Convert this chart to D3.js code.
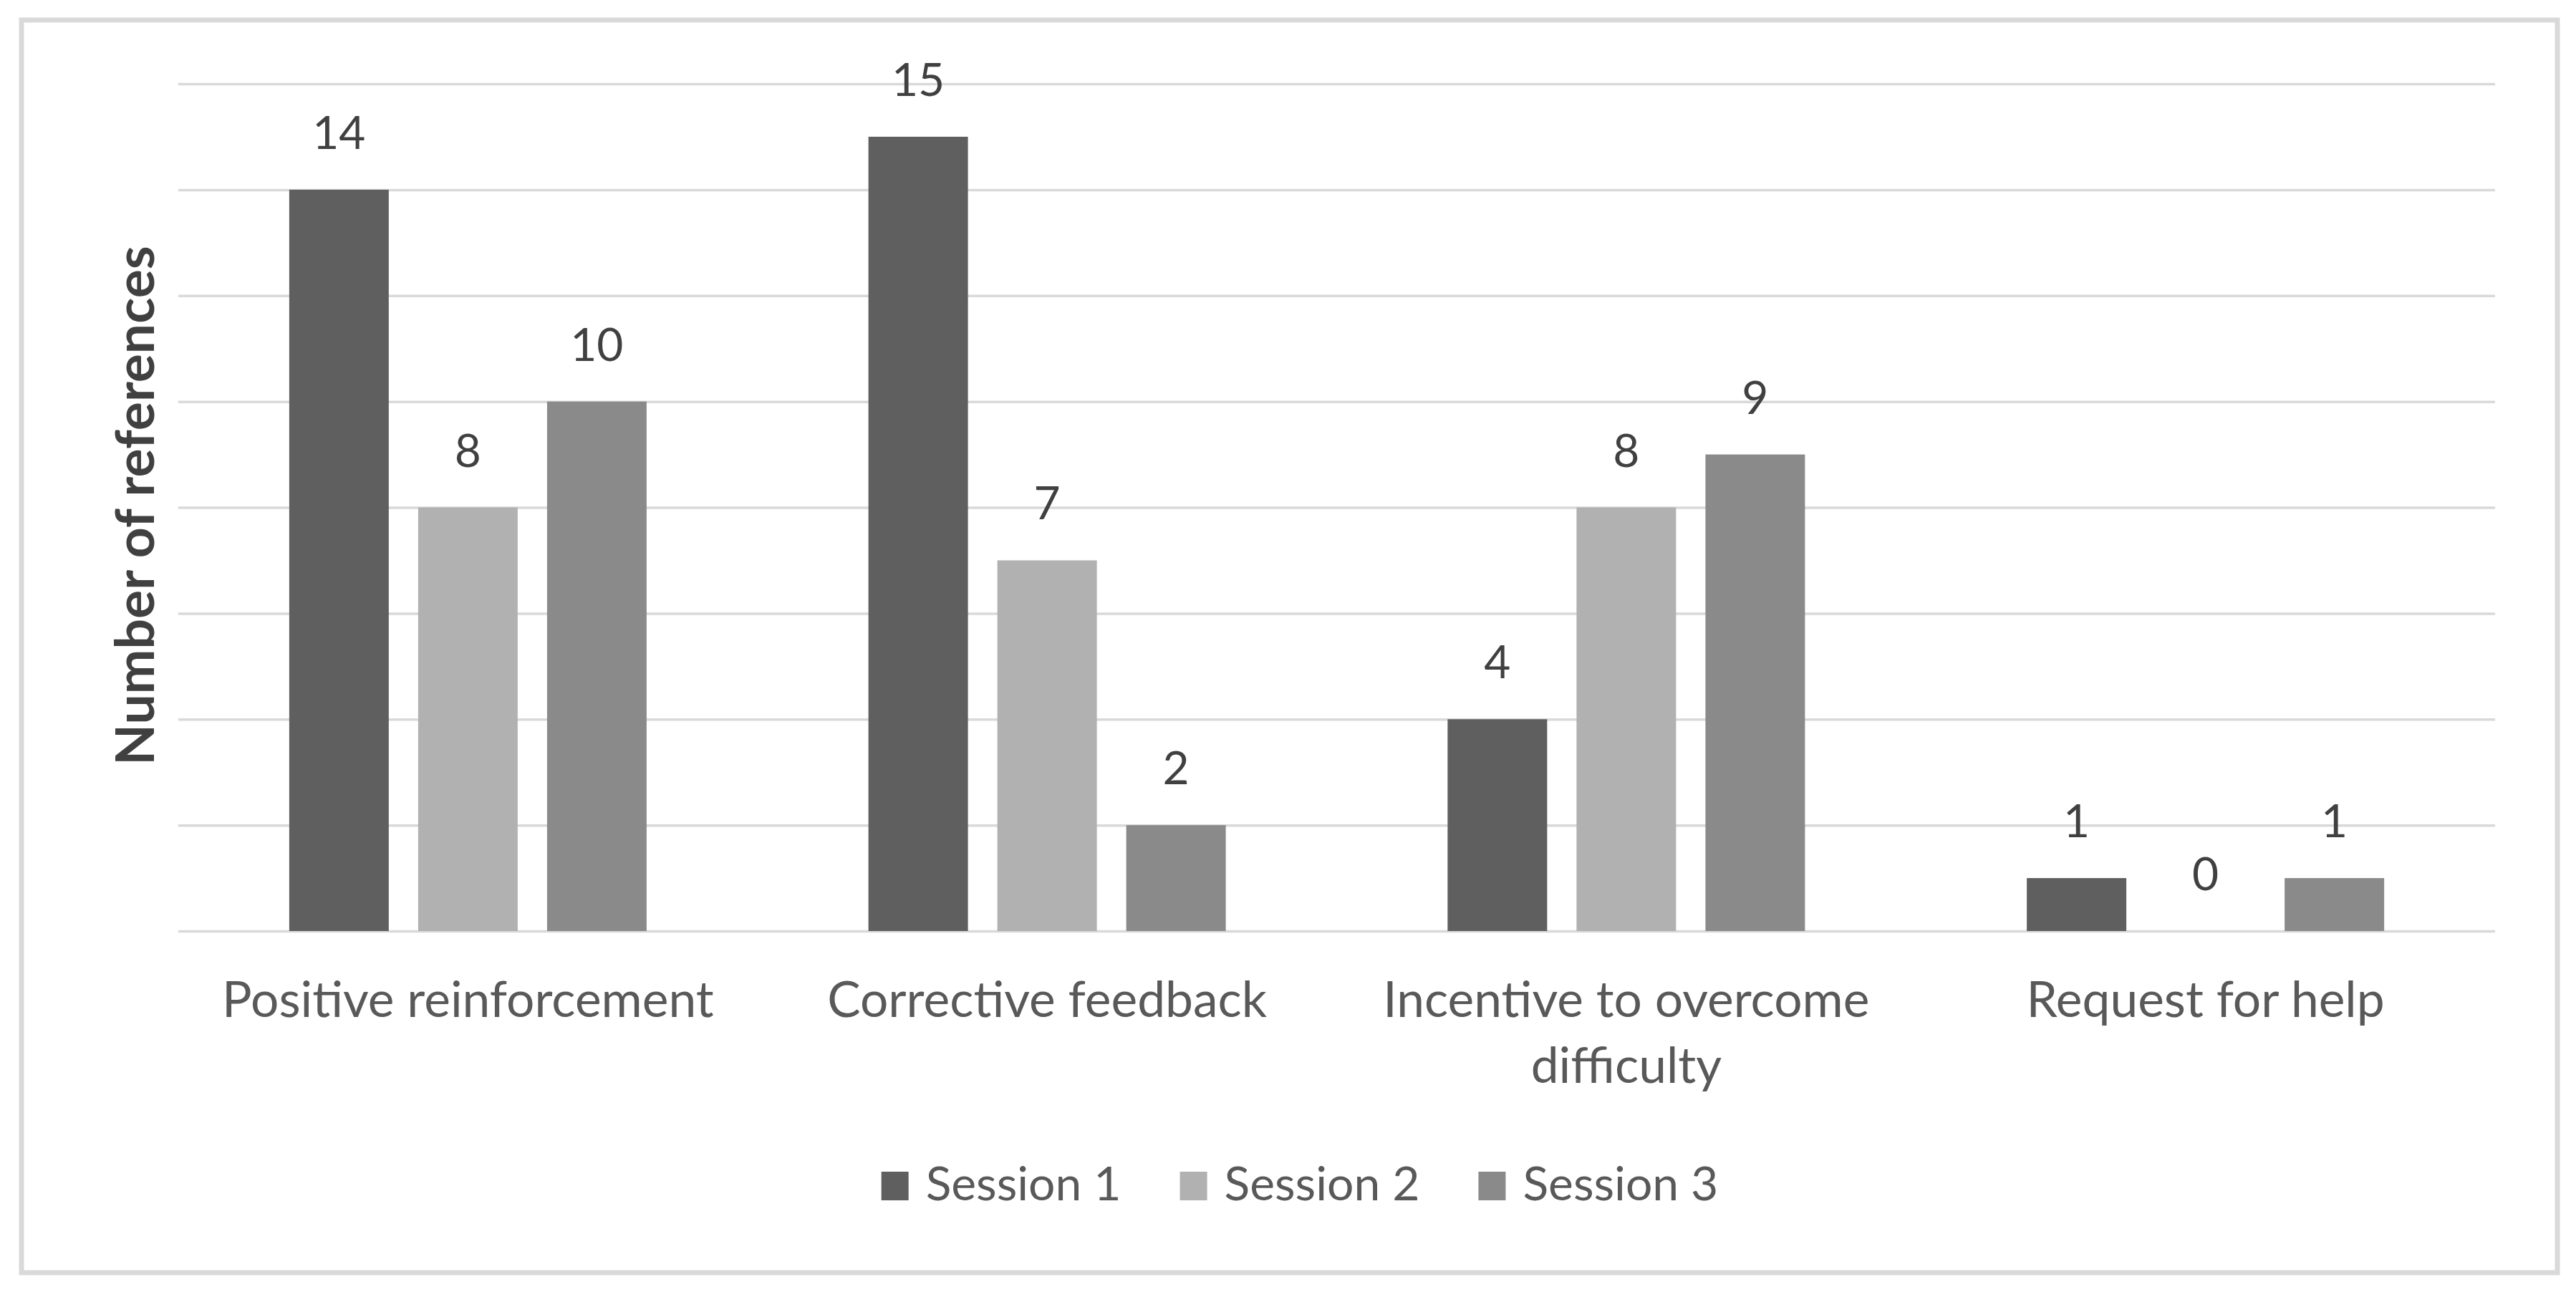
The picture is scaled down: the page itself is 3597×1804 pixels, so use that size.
<!DOCTYPE html>
<html><head><meta charset="utf-8">
<script src="https://cdn.jsdelivr.net/npm/d3@7"></script>
<style>html,body{margin:0;padding:0;background:#fff;} svg{display:block;}</style>
</head><body>
<svg id="chart" width="3597" height="1804"></svg>
<script>
const categories = ["Positive reinforcement", "Corrective feedback", "Incentive to overcome difficulty", "Request for help"];
const seriesNames = ["Session 1", "Session 2", "Session 3"];
const session1 = [14, 15, 4, 1];
const session2 = [8, 7, 8, 0];
const session3 = [10, 2, 9, 1];
const yTicks = [0, 2, 4, 6, 8, 10, 12, 14, 16];
const yTitle = "Number of references";
const colors = ["#5f5f5f", "#b1b1b1", "#8a8a8a"];

const seriesValues = [session1, session2, session3];
const W = 3597, H = 1804;
const plot = {left: 249, right: 3484, top: 117, bottom: 1300};
const FONT = "Lato, 'Open Sans', sans-serif";

const svg = d3.select("#chart");
svg.append("rect").attr("x", 0).attr("y", 0).attr("width", W).attr("height", H).attr("fill", "#fff");
// outer border
svg.append("rect").attr("x", 30).attr("y", 28).attr("width", 3541).attr("height", 1749)
  .attr("fill", "#fff").attr("stroke", "#d9d9d9").attr("stroke-width", 7);

const y = d3.scaleLinear().domain([0, 16]).range([plot.bottom, plot.top]);
const x0 = d3.scaleBand().domain(categories).range([plot.left, plot.right])
  .paddingInner(0.383).paddingOuter(0.1915);
const x1 = d3.scaleBand().domain(seriesNames).range([0, x0.bandwidth()])
  .paddingInner(0.228).paddingOuter(0);

// gridlines
const grid = svg.append("g").attr("transform", `translate(${plot.left},0)`)
  .call(d3.axisLeft(y).tickValues(yTicks).tickSize(-(plot.right - plot.left)).tickFormat(""));
grid.select(".domain").remove();
grid.selectAll(".tick line").attr("stroke", "#d9d9d9").attr("stroke-width", 3.5);

// bars
const rows = categories.map((c, i) => ({cat: c, vals: seriesNames.map((s, j) => ({s, j, v: seriesValues[j][i]}))}));
const groups = svg.append("g").selectAll("g").data(rows).join("g")
  .attr("transform", d => `translate(${x0(d.cat)},0)`);
groups.selectAll("rect").data(d => d.vals).join("rect")
  .attr("x", d => x1(d.s)).attr("width", x1.bandwidth())
  .attr("y", d => y(d.v)).attr("height", d => y(0) - y(d.v))
  .attr("fill", d => colors[d.j]);
groups.selectAll("text").data(d => d.vals).join("text")
  .attr("x", d => x1(d.s) + x1.bandwidth() / 2)
  .attr("y", d => y(d.v) - 57)
  .attr("text-anchor", "middle")
  .attr("font-family", FONT).attr("font-size", 64).attr("fill", "#404040")
  .text(d => d.v);

// category labels with wrapping
const maxW = x0.step() * 0.9;
categories.forEach(c => {
  const t = svg.append("text").attr("text-anchor", "middle")
    .attr("font-family", FONT).attr("font-size", 69.5).attr("fill", "#595959");
  const words = c.split(" ");
  let lines = [], cur = [];
  const probe = t.append("tspan");
  words.forEach(w => {
    const test = cur.concat([w]).join(" ");
    probe.text(test);
    if (probe.node().getComputedTextLength() > maxW && cur.length) {
      lines.push(cur.join(" "));
      cur = [w];
    } else cur.push(w);
  });
  lines.push(cur.join(" "));
  probe.remove();
  const cx = x0(c) + x0.bandwidth() / 2;
  lines.forEach((ln, k) => {
    t.append("tspan").attr("x", cx).attr("y", 1420 + k * 92).text(ln);
  });
});

// y title
svg.append("text").attr("transform", `translate(215,706) rotate(-90)`)
  .attr("text-anchor", "middle").attr("font-family", FONT).attr("font-weight", 700)
  .attr("font-size", 75).attr("fill", "#404040").text(yTitle);

// legend
const lg = svg.append("g");
const sq = 38, gap = 24, spacing = 82;
const items = seriesNames.map((s, j) => {
  const g = lg.append("g");
  g.append("rect").attr("x", 0).attr("y", 1636).attr("width", sq).attr("height", 40).attr("fill", colors[j]);
  const t = g.append("text").attr("x", sq + gap).attr("y", 1676)
    .attr("font-family", FONT).attr("font-size", 66).attr("fill", "#595959").text(s);
  return {g, w: sq + gap + t.node().getComputedTextLength()};
});
const total = d3.sum(items, d => d.w) + spacing * (items.length - 1);
let lx = 1815 - total / 2;
items.forEach(it => { it.g.attr("transform", `translate(${lx},0)`); lx += it.w + spacing; });
</script>
</body></html>
